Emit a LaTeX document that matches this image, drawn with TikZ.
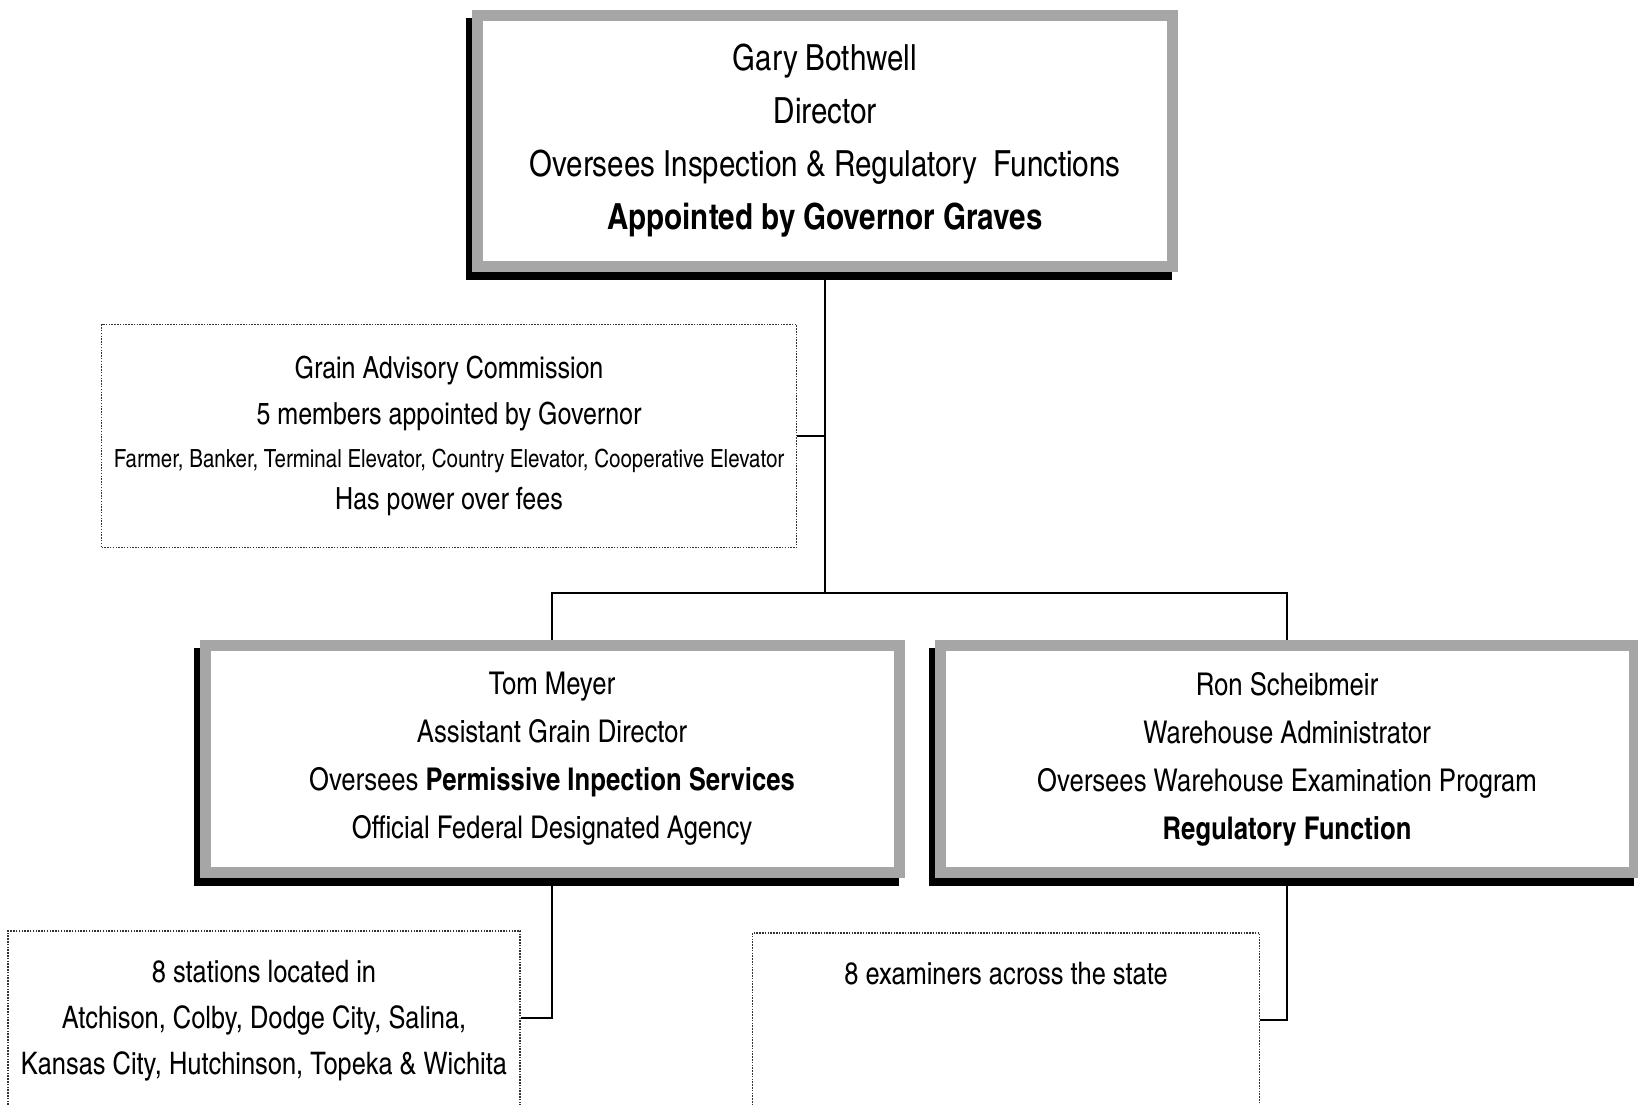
\documentclass[tikz,border=0pt]{standalone}
\usepackage{fontspec}
\setmainfont{texgyreheroscn}[Extension=.otf, UprightFont=*-regular, BoldFont=*-bold, ItalicFont=*-italic, BoldItalicFont=*-bolditalic]
\usetikzlibrary{shadows}

\tikzset{%
				officer box/.style={
					fill=black!35,
					align=center,
					drop shadow={fill=black, opacity=1, shadow xshift=-6pt, shadow yshift=-8pt},
					path picture={\fill[white] ([shift={(11pt,-11pt)}]path picture bounding box.north west) rectangle ([shift={(-11pt,11pt)}]path picture bounding box.south east);}
				},
				panel box/.style={
					draw=black!80,
					line width=1.7pt,
					dash pattern=on 1.5pt off 1.3pt,
					fill=white,
					align=center
				},
				link/.style={
					line width=2.4pt
				},
			}

\begin{document}
\begin{tikzpicture}[x=1pt, y=-1pt]
			
			\useasboundingbox (0,0) rectangle (1638,1104);
			
			\node [officer box, minimum width=706pt, minimum height=262pt, font=\fontsize{36}{53}\selectfont] (director) at (825,141)
			{Gary Bothwell\\ Director\\ Oversees Inspection \& Regulatory\ \ Functions\\ \textbf{Appointed by Governor Graves}};
			
			\node [panel box, minimum width=695pt, minimum height=223pt, font=\fontsize{30.5}{46}\selectfont] (commission) at (449,436)
			{Grain Advisory Commission\\ 5 members appointed by Governor\\[-3pt] {\fontsize{25}{28}\selectfont Farmer, Banker, Terminal Elevator, Country Elevator, Cooperative Elevator}\\[-4pt] Has power over fees};
			
			\node [officer box, minimum width=705pt, minimum height=238pt, font=\fontsize{31.3}{48}\selectfont] (meyer) at (552,759)
			{Tom Meyer\\ Assistant Grain Director\\ Oversees \textbf{Permissive Inpection Services}\\ Official Federal Designated Agency};
			
			\node [officer box, minimum width=705pt, minimum height=238pt, font=\fontsize{31.3}{48}\selectfont] (scheibmeir) at (1287,759)
			{Ron Scheibmeir\\ Warehouse Administrator\\ Oversees Warehouse Examination Program\\ \textbf{Regulatory Function}};
			
			\node [panel box, anchor=north, minimum width=512pt, inner ysep=29pt, text depth=160pt, font=\fontsize{31}{46}\selectfont] (stations) at (264,930)
			{8 stations located in\\ Atchison, Colby, Dodge City, Salina,\\ Kansas City, Hutchinson, Topeka \& Wichita};
			
			\node [panel box, anchor=north, minimum width=507pt, inner ysep=29pt, text depth=160pt, font=\fontsize{31}{46}\selectfont] (examiners) at (1006,932)
			{8 examiners across the state};
			
			% connectors
			\coordinate (split) at (director.south |- 0,593);
			\draw [link] (director.south) -- (split);
			\draw [link] (commission.east) -- (commission.east -| director.south);
			\draw [link] (meyer.north) |- (split) -| (scheibmeir.north);
			
			\foreach \up/\down in {meyer/stations, scheibmeir/examiners}
			\draw [link] (\up.south) |- ([yshift=-88pt]\down.north east);
			
\end{tikzpicture}
\end{document}
